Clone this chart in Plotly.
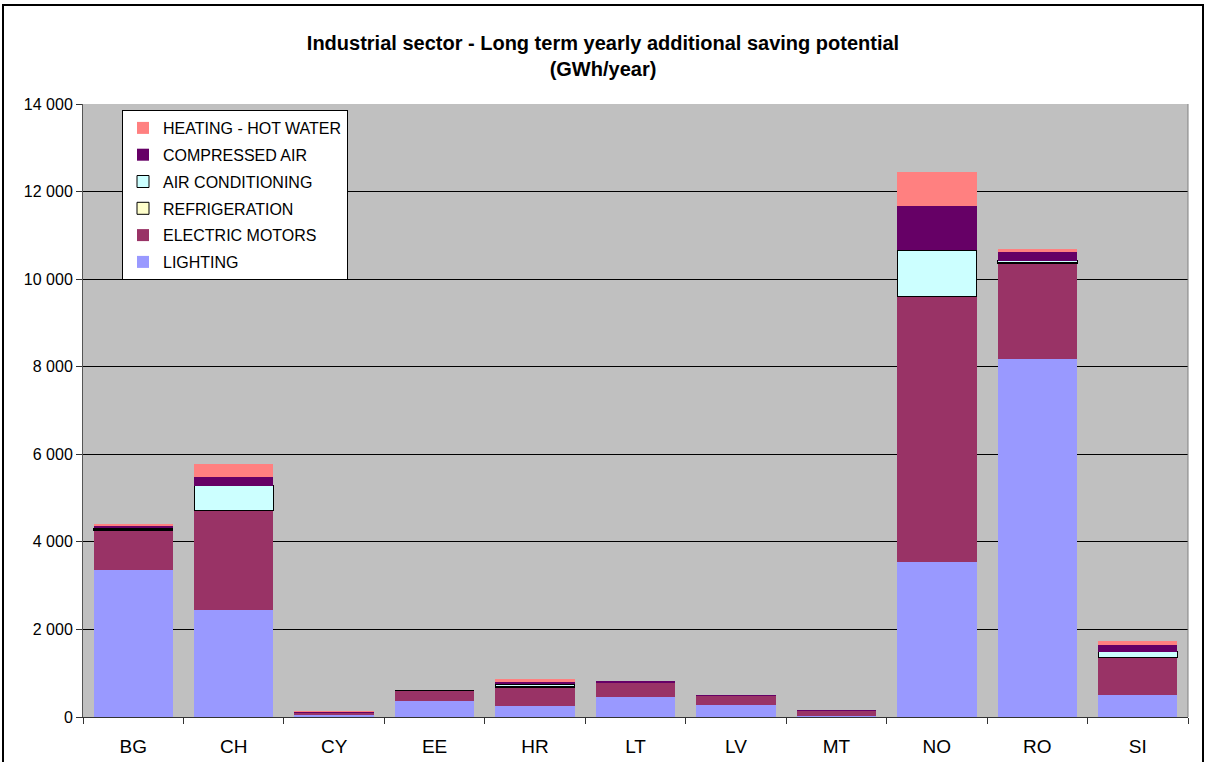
import plotly.graph_objects as go

countries = ["BG", "CH", "CY", "EE", "HR", "LT", "LV", "MT", "NO", "RO", "SI"]

lighting        = [3350, 2450,  40, 370, 250, 460, 280,  30, 3550, 8180,  500]
electric_motors = [ 920, 2260,  70, 240, 420, 330, 200, 110, 6050, 2170,  850]
refrigeration   = [  20,   10,   0,   0,  20,   0,   0,   0,   10,   30,   10]
air_conditioning= [  20,  560,   0,   0,  60,   0,   0,   0, 1050,   40,  130]
compressed_air  = [  60,  210,  15,   0,  70,  20,  15,  10, 1000,  190,  150]
heating_hot_water=[  30,  290,   5,   0,  40,   0,   0,   0,  790,   85,   90]

series = [
    ("LIGHTING", lighting, "#9999FF", 0),
    ("ELECTRIC MOTORS", electric_motors, "#993366", 0),
    ("REFRIGERATION", refrigeration, "#FFFFCC", 1),
    ("AIR CONDITIONING", air_conditioning, "#CCFFFF", 1),
    ("COMPRESSED AIR", compressed_air, "#660066", 0),
    ("HEATING - HOT WATER", heating_hot_water, "#FF8080", 0),
]

fig = go.Figure()
n = len(series)
for i, (name, vals, color, lw) in enumerate(series):
    fig.add_trace(go.Bar(
        x=countries, y=vals, name=name, legendgroup=f"g{i}",
        legendrank=1000 + (n - i),
        marker=dict(color=color, line=dict(color="#000000", width=lw)),
    ))

W, H = 1206, 762
L, R, T, B = 83, 1188, 104, 717

def px2x(p):
    return (p - L) / (R - L)

def py2y(p):
    return (B - p) / (B - T)

fig.update_layout(
    width=W, height=H,
    barmode="stack", bargap=0.21,
    paper_bgcolor="white", plot_bgcolor="#C0C0C0",
    margin=dict(l=L, r=W - R, t=T, b=H - B, pad=0, autoexpand=False),
    separators=". ",
    font=dict(family="Liberation Sans, Arial", color="#000000"),
    title=dict(
        text="<b>Industrial sector - Long term yearly additional saving potential<br>(GWh/year)</b>",
        x=0.5, xanchor="center", xref="container", y=1 - 50 / H, yanchor="top",
        font=dict(size=20, family="Liberation Sans, Arial"),
        pad=dict(t=0, b=0, l=0, r=0),
    ),
    legend=dict(
        x=px2x(122), y=py2y(110), xanchor="left", yanchor="top",
        bgcolor="white", bordercolor="#000000", borderwidth=1,
        traceorder="grouped", tracegroupgap=3,
        itemwidth=30,
        font=dict(size=16, color="#000000"),
    ),
    xaxis=dict(
        showgrid=False, ticks="outside", tickson="boundaries", ticklen=6,
        tickcolor="#333333", showline=True, linecolor="#333333", linewidth=1,
        tickfont=dict(size=19), ticklabelstandoff=12, automargin=False,
    ),
    yaxis=dict(
        range=[0, 14000], dtick=2000, tickformat=",d",
        showgrid=True, gridcolor="#000000", gridwidth=1,
        ticks="outside", ticklen=6, tickcolor="#333333",
        showline=True, linecolor="#555555", linewidth=1,
        tickfont=dict(size=16), zeroline=False, automargin=False,
    ),
    shapes=[
        dict(type="rect", xref="paper", yref="paper",
             x0=px2x(3), x1=px2x(1203), y0=py2y(790), y1=py2y(5),
             line=dict(color="#000000", width=2), fillcolor="rgba(0,0,0,0)", layer="above"),
        dict(type="line", xref="paper", yref="paper",
             x0=1, x1=1, y0=0, y1=1, line=dict(color="#808080", width=1)),
    ],
)

fig.write_html("out.html", config={"displayModeBar": False},
               post_script="document.body.style.margin='0px';")
